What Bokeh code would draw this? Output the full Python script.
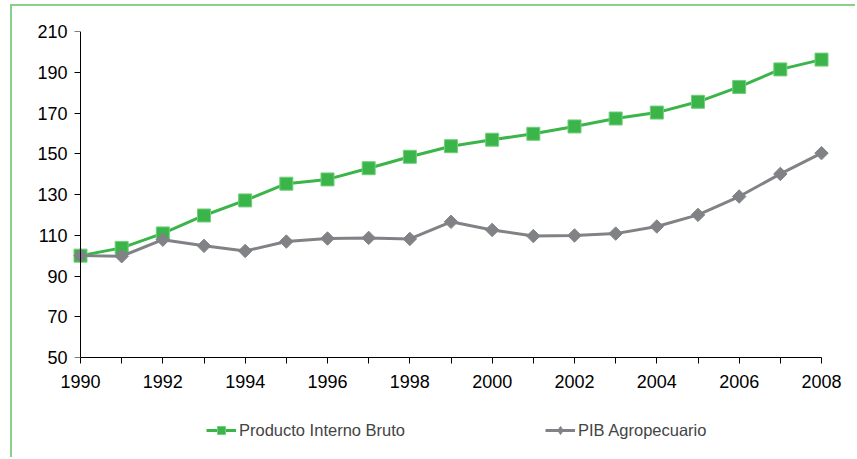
import numpy as np
from bokeh.plotting import figure
from bokeh.layouts import column
from bokeh.models import Range1d, FixedTicker, Legend, LegendItem, LinearAxis
from bokeh.embed import file_html
from bokeh.resources import INLINE

years = list(range(1990, 2009))
pib_total = [100.0, 103.8, 110.9, 119.7, 127.1, 135.3, 137.4, 142.9, 148.5, 153.7,
             156.9, 159.8, 163.4, 167.3, 170.2, 175.5, 182.8, 191.4, 196.2]
pib_agro = [100.0, 99.7, 107.8, 104.8, 102.3, 106.9, 108.4, 108.7, 108.2, 116.6,
            112.6, 109.6, 109.9, 110.8, 114.3, 120.0, 129.0, 140.1, 150.3]
y_ticks = [50, 70, 90, 110, 130, 150, 170, 190, 210]
label_total = "Producto Interno Bruto"
label_agro = "PIB Agropecuario"

GREEN = "#3bb54a"
GRAY = "#808285"
FRAME = "#86d08c"
FONT = "Liberation Sans"

xpad = 8 * 18 / 741

p = figure(width=845, height=395, output_backend="svg", toolbar_location=None,
           x_range=Range1d(1990 - xpad, 2008 + xpad),
           y_range=Range1d(50, 210),
           min_border_left=60, min_border_right=28, min_border_top=25, min_border_bottom=44)
p.styles = {"border-left": f"2px solid {FRAME}", "border-top": f"2px solid {FRAME}",
            "margin-left": "10px", "margin-top": "4px"}
p.outline_line_color = None
p.xgrid.visible = False
p.ygrid.visible = False

# x axis
xa = p.xaxis[0]
xa.ticker = FixedTicker(ticks=years)
xa.major_label_overrides = {y: ("" if y % 2 else str(y)) for y in years}
xa.bounds = (1990, 2008)
xa.axis_line_color = "black"
xa.major_tick_line_color = "black"
xa.major_tick_in = 0
xa.major_tick_out = 6
xa.minor_tick_line_color = None
xa.major_label_text_font = FONT
xa.major_label_text_font_size = "18px"
xa.major_label_text_color = "black"
xa.major_label_standoff = 11

# y labels (at frame edge)
ya = p.yaxis[0]
ya.ticker = FixedTicker(ticks=y_ticks)
ya.axis_line_color = None
ya.major_tick_line_color = None
ya.major_tick_in = 0
ya.major_tick_out = 0
ya.minor_tick_line_color = None
ya.major_label_text_font = FONT
ya.major_label_text_font_size = "18px"
ya.major_label_text_color = "black"
ya.major_label_standoff = 5

# y axis line and ticks placed at 1990
yl = LinearAxis(ticker=FixedTicker(ticks=y_ticks), fixed_location=1990, bounds=(50, 210),
                axis_line_color="black", major_tick_line_color="black",
                major_tick_in=0, major_tick_out=6, minor_tick_line_color=None,
                major_label_overrides={t: "" for t in y_ticks},
                major_label_text_font_size="1px", major_label_standoff=0)
p.add_layout(yl, "left")

p.line(years, pib_total, line_color=GREEN, line_width=3)
p.scatter(years, pib_total, marker="square", size=13, fill_color=GREEN,
          line_color="#6fcf7a", line_width=1)
p.line(years, pib_agro, line_color=GRAY, line_width=3)
p.scatter(years, pib_agro, marker="square", angle=np.pi / 4, size=9.5,
          fill_color=GRAY, line_color=GRAY, line_width=1)

# legend strip below the chart (its renderers lie outside its visible range)
lf = figure(width=845, height=58, output_backend="svg", toolbar_location=None,
            x_range=Range1d(0, 1), y_range=Range1d(0, 1),
            min_border_left=0, min_border_right=0, min_border_top=0, min_border_bottom=0)
lf.styles = {"border-left": f"2px solid {FRAME}", "margin-left": "10px"}
lf.axis.visible = False
lf.grid.visible = False
lf.outline_line_color = None
l1 = lf.line(years, pib_total, line_color=GREEN, line_width=3)
m1 = lf.scatter(years, pib_total, marker="square", size=13, fill_color=GREEN,
                line_color="#6fcf7a", line_width=1)
l2 = lf.line(years, pib_agro, line_color=GRAY, line_width=3)
m2 = lf.scatter(years, pib_agro, marker="diamond", size=15,
                fill_color=GRAY, line_color=GRAY, line_width=1)
legend = Legend(items=[LegendItem(label=label_total, renderers=[l1, m1]),
                       LegendItem(label=label_agro, renderers=[l2, m2])],
                orientation="horizontal", location=(134, 17), spacing=140,
                glyph_width=30, label_text_font=FONT, label_text_font_size="16.5px",
                label_standoff=3, border_line_color=None, background_fill_alpha=0,
                padding=4, margin=0)
lf.add_layout(legend, "center")

open("out.html", "w").write(file_html(column(p, lf, spacing=0), INLINE))
